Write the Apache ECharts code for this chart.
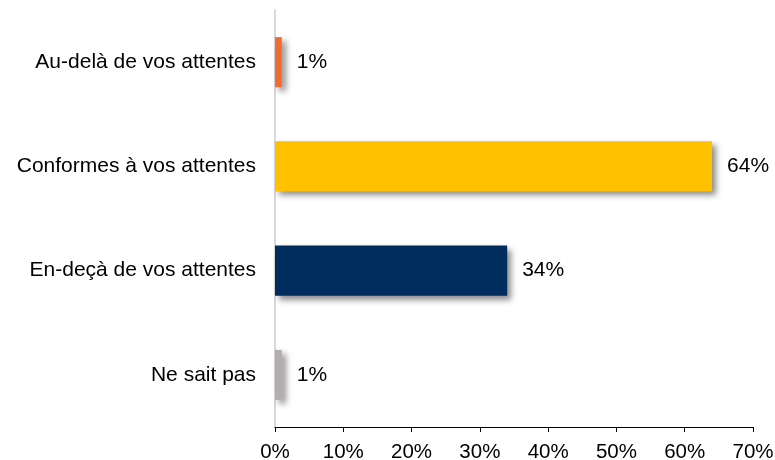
<!DOCTYPE html>
<html><head><meta charset="utf-8">
<script src="https://cdn.jsdelivr.net/npm/echarts@6/dist/echarts.min.js"></script>
<style>html,body{margin:0;padding:0;background:#fff}#c{width:775px;height:460px}</style>
</head><body><div id="c"></div>
<script>
const categories = ["Au-delà de vos attentes", "Conformes à vos attentes", "En-deçà de vos attentes", "Ne sait pas"];
const values = [1, 64, 34, 1];
const colors = ["#F26B32", "#FFC000", "#002D5E", "#B3AEAE"];
const xTicks = [0, 10, 20, 30, 40, 50, 60, 70];

const chart = echarts.init(document.getElementById('c'), null, {renderer: 'canvas'});
chart.setOption({
  animation: false,
  backgroundColor: '#fff',
  grid: {left: 275, right: 22, top: 10, bottom: 33, containLabel: false, outerBoundsMode: 'none'},
  xAxis: {
    type: 'value', min: xTicks[0], max: xTicks[xTicks.length - 1], interval: 10,
    axisLine: {show: true, lineStyle: {color: '#000', width: 1}},
    axisTick: {show: true, inside: false, length: 5, lineStyle: {color: '#000'}},
    splitLine: {show: false},
    axisLabel: {formatter: v => v + '%', color: '#000', fontSize: 20.5, fontFamily: 'Liberation Sans, Arial', margin: 15}
  },
  yAxis: {
    type: 'category', inverse: true, data: categories,
    axisLine: {show: true, lineStyle: {color: '#d9d9d9', width: 2}},
    axisTick: {show: false},
    axisLabel: {color: '#000', fontSize: 21, fontFamily: 'Liberation Sans, Arial', margin: 19}
  },
  series: [{
    type: 'bar', barWidth: '48%',
    data: values.map((v, i) => ({value: v, itemStyle: {color: colors[i]}})),
    itemStyle: {shadowColor: 'rgba(0,0,0,0.45)', shadowBlur: 6, shadowOffsetX: 4, shadowOffsetY: 4},
    label: {show: true, position: 'right', distance: 15, formatter: p => p.value + '%', color: '#000', fontSize: 21, fontFamily: 'Liberation Sans, Arial'}
  }]
});
</script></body></html>
